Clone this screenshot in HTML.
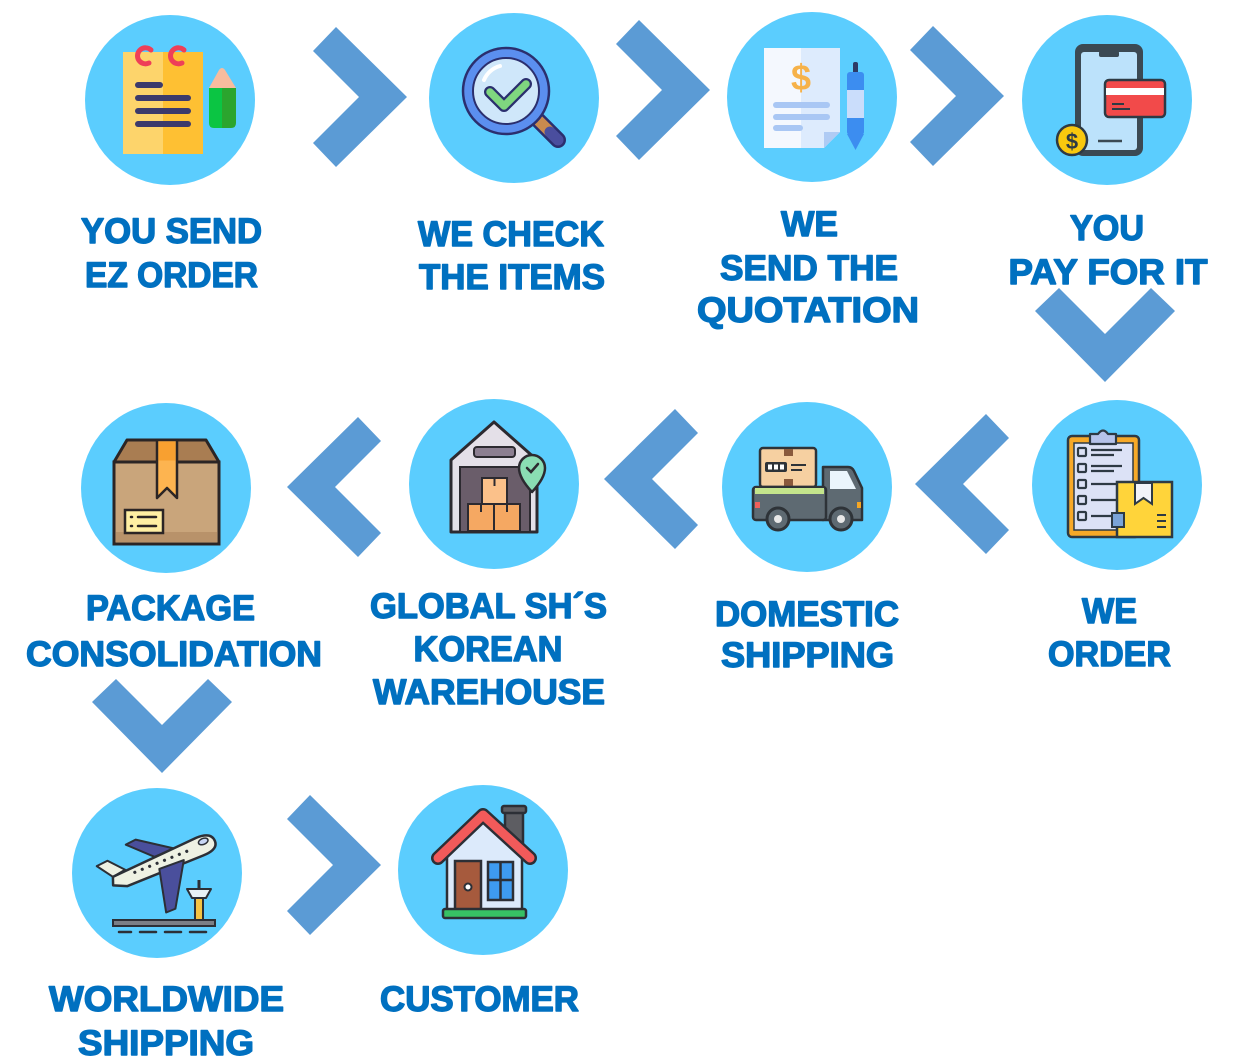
<!DOCTYPE html>
<html><head><meta charset="utf-8"><style>
html,body{margin:0;padding:0;background:#fff;}
svg{display:block;}
.t{font-family:"Liberation Sans",Arial,sans-serif;font-weight:700;font-size:35px;fill:#0070C0;stroke:#0070C0;stroke-width:1.4px;stroke-linejoin:round;text-anchor:middle;}
.c{fill:#5BCDFE;}
.ch{fill:#5B9BD5;}
</style></head><body>
<svg width="1233" height="1064" viewBox="0 0 1233 1064" xmlns="http://www.w3.org/2000/svg">
<defs>
<polygon id="chev" points="0,0 -71,-70 -94,-46 -48,0 -94,46 -71,70"/>
</defs>

<!-- circles -->
<circle class="c" cx="170" cy="100" r="85"/>
<circle class="c" cx="514" cy="98" r="85"/>
<circle class="c" cx="812" cy="97" r="85"/>
<circle class="c" cx="1107" cy="100" r="85"/>
<circle class="c" cx="1117" cy="485" r="85"/>
<circle class="c" cx="807" cy="487" r="85"/>
<circle class="c" cx="494" cy="484" r="85"/>
<circle class="c" cx="166" cy="488" r="85"/>
<circle class="c" cx="157" cy="873" r="85"/>
<circle class="c" cx="483" cy="870" r="85"/>

<!-- chevrons -->
<use href="#chev" class="ch" transform="translate(407,97)"/>
<use href="#chev" class="ch" transform="translate(710,90)"/>
<use href="#chev" class="ch" transform="translate(1004,96)"/>
<use href="#chev" class="ch" transform="translate(1105,382) rotate(90)"/>
<use href="#chev" class="ch" transform="translate(915,484) rotate(180)"/>
<use href="#chev" class="ch" transform="translate(604,479) rotate(180)"/>
<use href="#chev" class="ch" transform="translate(287,487) rotate(180)"/>
<use href="#chev" class="ch" transform="translate(162,773) rotate(90)"/>
<use href="#chev" class="ch" transform="translate(381,865)"/>

<!-- Icon 1: notepad -->
<rect x="123" y="52" width="40" height="102" fill="#FDD46B"/>
<rect x="163" y="52" width="40" height="102" fill="#FEC033"/>
<path d="M151,50 A8,8 0 1 0 149,63" fill="none" stroke="#EE3F58" stroke-width="5" stroke-linecap="round"/>
<path d="M184,50 A8,8 0 1 0 182,63" fill="none" stroke="#EE3F58" stroke-width="5" stroke-linecap="round"/>
<g stroke="#3C3A6B" stroke-width="6" stroke-linecap="round">
<line x1="138" y1="85" x2="160" y2="85"/>
<line x1="138" y1="98" x2="188" y2="98"/>
<line x1="138" y1="111" x2="188" y2="111"/>
<line x1="138" y1="124" x2="188" y2="124"/>
</g>
<path d="M209,88 L219,70 Q222,66 225,70 L236,88 Z" fill="#F8BC9E"/>
<path d="M209,88 H222 V128 H214 Q209,128 209,123 Z" fill="#0BC543"/>
<path d="M222,88 H236 V123 Q236,128 231,128 H222 Z" fill="#2BA52E"/>

<!-- Icon 2: magnifier -->
<line x1="537" y1="119" x2="558" y2="140" stroke="#2B2F6E" stroke-width="16" stroke-linecap="round"/>
<line x1="537" y1="119" x2="550" y2="132" stroke="#C98A4E" stroke-width="11" stroke-linecap="butt"/>
<line x1="550" y1="132" x2="558" y2="140" stroke="#4A4E9E" stroke-width="11" stroke-linecap="round"/>
<circle cx="506" cy="91" r="43" fill="#5B8FEF" stroke="#2B2F6E" stroke-width="2.5"/>
<circle cx="506" cy="91" r="33" fill="#CFE7FA" stroke="#2B2F6E" stroke-width="2"/>
<path d="M484,80 A24,24 0 0 1 500,66" fill="none" stroke="#fff" stroke-width="4" stroke-linecap="round"/>
<polyline points="490,92 504,106 526,84" fill="none" stroke="#2B2F6E" stroke-width="12" stroke-linejoin="round" stroke-linecap="round"/>
<polyline points="490,92 504,106 526,84" fill="none" stroke="#7FD67F" stroke-width="7.5" stroke-linejoin="round" stroke-linecap="round"/>

<!-- Icon 3: quotation -->
<path d="M764,48 H801 V148 H764 Z" fill="#F4F8FE"/>
<path d="M801,48 H840 V132 L824,148 H801 Z" fill="#DDEBFD"/>
<path d="M824,148 V132 H840 Z" fill="#AFCBF4"/>
<text x="801" y="90" font-family="Liberation Sans,Arial,sans-serif" font-weight="700" font-size="36" fill="#F6B24A" text-anchor="middle">$</text>
<g stroke="#A9C7F4" stroke-width="6" stroke-linecap="round">
<line x1="776" y1="105" x2="827" y2="105"/>
<line x1="776" y1="117" x2="827" y2="117"/>
<line x1="776" y1="128" x2="800" y2="128"/>
</g>
<rect x="853" y="62" width="5" height="12" rx="2" fill="#2D3A66"/>
<rect x="847" y="72" width="17" height="63" rx="3" fill="#3C8DF0"/>
<rect x="847" y="90" width="17" height="28" fill="#CADDFB"/>
<polygon points="847,134 864,134 855.5,150" fill="#3C8DF0"/>

<!-- Icon 4: phone -->
<rect x="1075" y="44" width="68" height="112" rx="8" fill="#3B4953"/>
<rect x="1081" y="52" width="56" height="98" rx="3" fill="#BCE2FB"/>
<rect x="1099" y="51" width="20" height="6" rx="2" fill="#3B4953"/>
<line x1="1098" y1="141" x2="1122" y2="141" stroke="#3B4953" stroke-width="2.5"/>
<rect x="1105" y="80" width="60" height="37" rx="4" fill="#F24A4A" stroke="#2E3A44" stroke-width="2.5"/>
<rect x="1106" y="88" width="58" height="7" fill="#fff"/>
<line x1="1112" y1="104" x2="1124" y2="104" stroke="#2E3A44" stroke-width="2"/>
<line x1="1112" y1="109" x2="1130" y2="109" stroke="#2E3A44" stroke-width="2"/>
<circle cx="1072" cy="140" r="15" fill="#F9C80E" stroke="#2E3A44" stroke-width="2.5"/>
<text x="1072" y="149" font-family="Liberation Sans,Arial,sans-serif" font-weight="700" font-size="22" fill="#2E3A44" text-anchor="middle">$</text>

<!-- Icon 5: clipboard + box -->
<rect x="1068" y="436" width="71" height="101" rx="4" fill="#F7A928" stroke="#2E3A44" stroke-width="2.5"/>
<rect x="1074" y="443" width="59" height="87" fill="#DCE2F6" stroke="#2E3A44" stroke-width="1.5"/>
<path d="M1090,444 V434 H1098 Q1103,427 1108,434 H1116 V444 Z" fill="#B6C3EA" stroke="#2E3A44" stroke-width="2.2" stroke-linejoin="round"/>
<g fill="none" stroke="#2E3A44" stroke-width="2.2">
<rect x="1078" y="448" width="8" height="8" rx="1"/>
<rect x="1078" y="464" width="8" height="8" rx="1"/>
<rect x="1078" y="480" width="8" height="8" rx="1"/>
<rect x="1078" y="496" width="8" height="8" rx="1"/>
<rect x="1078" y="512" width="8" height="8" rx="1"/>
<line x1="1091" y1="450" x2="1122" y2="450"/>
<line x1="1091" y1="455" x2="1114" y2="455"/>
<line x1="1091" y1="466" x2="1122" y2="466"/>
<line x1="1091" y1="471" x2="1114" y2="471"/>
<line x1="1091" y1="484" x2="1117" y2="484"/>
<line x1="1091" y1="500" x2="1117" y2="500"/>
<line x1="1091" y1="516" x2="1117" y2="516"/>
</g>
<rect x="1117" y="482" width="55" height="55" fill="#FFD43A" stroke="#2E3A44" stroke-width="2.5"/>
<path d="M1135,483 H1152 V504 L1143.5,498 L1135,504 Z" fill="#F2F3F8" stroke="#2E3A44" stroke-width="2"/>
<rect x="1112" y="513" width="12" height="14" fill="#7BA4D8" stroke="#2E3A44" stroke-width="2"/>
<g stroke="#2E3A44" stroke-width="2"><line x1="1157" y1="515" x2="1166" y2="515"/><line x1="1157" y1="521" x2="1166" y2="521"/><line x1="1157" y1="527" x2="1166" y2="527"/></g>

<!-- Icon 6: truck -->
<rect x="760" y="448" width="56" height="39" rx="3" fill="#F6D0A1" stroke="#2E3338" stroke-width="2.5"/>
<rect x="784" y="449" width="9" height="7" fill="#8A5A3C"/>
<rect x="784" y="479" width="9" height="7" fill="#8A5A3C"/>
<rect x="765" y="462" width="22" height="10" rx="2" fill="#2E3338"/>
<rect x="768" y="464.5" width="4" height="5" fill="#fff"/><rect x="774" y="464.5" width="4" height="5" fill="#fff"/><rect x="780" y="464.5" width="4" height="5" fill="#fff"/>
<line x1="791" y1="465" x2="806" y2="465" stroke="#2E3338" stroke-width="2"/>
<line x1="791" y1="470" x2="802" y2="470" stroke="#2E3338" stroke-width="2"/>
<path d="M823,467 H848 Q852,467 854,471 L862,488 V520 H823 Z" fill="#5E6A72" stroke="#2E3338" stroke-width="2.5" stroke-linejoin="round"/>
<polygon points="830,471 847,471 856,489 830,489" fill="#EAF5FC"/>
<rect x="753" y="487" width="73" height="33" rx="3" fill="#5E6A72" stroke="#2E3338" stroke-width="2.5"/>
<rect x="755" y="488" width="69" height="6" fill="#C4E58C"/>
<rect x="755" y="502" width="5" height="6" fill="#F0605A"/>
<rect x="857" y="502" width="4" height="6" fill="#F6A623"/>
<circle cx="778" cy="519" r="11" fill="#5E6A72" stroke="#2E3338" stroke-width="3"/>
<circle cx="778" cy="519" r="4" fill="#E8E8E8"/>
<circle cx="841" cy="519" r="11" fill="#5E6A72" stroke="#2E3338" stroke-width="3"/>
<circle cx="841" cy="519" r="4" fill="#E8E8E8"/>

<!-- Icon 7: warehouse -->
<polygon points="451,460 494,422 537,460 537,532 451,532" fill="#E4E0E8" stroke="#2C2A30" stroke-width="3" stroke-linejoin="round"/>
<rect x="474" y="447" width="41" height="10" rx="3" fill="#8C7F91" stroke="#2C2A30" stroke-width="2"/>
<rect x="460" y="467" width="70" height="65" fill="#6A5D6A" stroke="#2C2A30" stroke-width="2"/>
<rect x="482" y="478" width="25" height="26" fill="#FBC18A" stroke="#2C2A30" stroke-width="2"/>
<rect x="468" y="504" width="26" height="27" fill="#F5A862" stroke="#2C2A30" stroke-width="2"/>
<rect x="494" y="504" width="26" height="27" fill="#F5A862" stroke="#2C2A30" stroke-width="2"/>
<g stroke="#2C2A30" stroke-width="2"><line x1="494.5" y1="478" x2="494.5" y2="486"/><line x1="481" y1="504" x2="481" y2="512"/><line x1="507" y1="504" x2="507" y2="512"/></g>
<path d="M532,492 Q519,478 519,468 A13,13 0 0 1 545,468 Q545,478 532,492 Z" fill="#8ADDB3" stroke="#2C2A30" stroke-width="2.5" stroke-linejoin="round"/>
<polyline points="527,468 531,472 538,464" fill="none" stroke="#2C2A30" stroke-width="2.5" stroke-linecap="round"/>

<!-- Icon 8: package -->
<polygon points="114,462 127,440 206,440 219,462" fill="#A97D52" stroke="#2B2525" stroke-width="3" stroke-linejoin="round"/>
<rect x="114" y="462" width="105" height="82" fill="#C9A57B" stroke="#2B2525" stroke-width="3"/>
<rect x="116" y="532" width="101" height="10" fill="#B8926A"/>
<polygon points="157,440 177,440 177,498 167,488 157,498" fill="#FDB450" stroke="#2B2525" stroke-width="2.5" stroke-linejoin="round"/>
<rect x="158.5" y="441.5" width="17" height="19" fill="#F8A030"/>
<rect x="125" y="510" width="38" height="23" fill="#FFEFA3" stroke="#2B2525" stroke-width="2.5"/>
<g stroke="#2B2525" stroke-width="2.5" stroke-linecap="round">
<line x1="131" y1="517" x2="132" y2="517"/><line x1="131" y1="526" x2="132" y2="526"/>
<line x1="138" y1="517" x2="156" y2="517"/><line x1="138" y1="526" x2="156" y2="526"/>
</g>

<!-- Icon 9: plane -->
<rect x="113" y="920" width="102" height="6" fill="#7B7F86" stroke="#2C2F36" stroke-width="2"/>
<g stroke="#2C2F36" stroke-width="2.5" stroke-linecap="round">
<line x1="119" y1="932" x2="131" y2="932"/><line x1="140" y1="932" x2="156" y2="932"/><line x1="165" y1="932" x2="181" y2="932"/><line x1="190" y1="932" x2="206" y2="932"/>
</g>
<line x1="199" y1="880" x2="199" y2="920" stroke="#2C2F36" stroke-width="3"/>
<rect x="195" y="897" width="8" height="23" fill="#F5C343" stroke="#2C2F36" stroke-width="2"/>
<polygon points="187,889 211,889 206,898 192,898" fill="#E8F1F5" stroke="#2C2F36" stroke-width="2" stroke-linejoin="round"/>
<g transform="translate(163,862) rotate(-22)">
<polygon points="-6,-8 -28,-30 -17,-31 16,-8" fill="#4A4F9C" stroke="#2C2F36" stroke-width="2" stroke-linejoin="round"/>
<polygon points="-52,-5 -63,-21 -51,-22 -38,-7" fill="#EEF1E3" stroke="#2C2F36" stroke-width="2" stroke-linejoin="round"/>
<path d="M-55,3 L-52,-5 L40,-10 Q56,-10 56,0 Q56,9 40,9 L-42,9 Z" fill="#EEF1E3" stroke="#2C2F36" stroke-width="2.5" stroke-linejoin="round"/>
<ellipse cx="45" cy="-4" rx="5" ry="3" fill="#C8D6F3" stroke="#2C2F36" stroke-width="1.5"/>
<g fill="#2C2F36"><circle cx="-30" cy="-1" r="1.6"/><circle cx="-22" cy="-1" r="1.6"/><circle cx="-14" cy="-1" r="1.6"/><circle cx="-6" cy="-1" r="1.6"/><circle cx="2" cy="-1" r="1.6"/><circle cx="10" cy="-1" r="1.6"/><circle cx="18" cy="-1" r="1.6"/><circle cx="26" cy="-1" r="1.6"/></g>
<polygon points="-6,5 -16,48 -6,48 20,6" fill="#4A4F9C" stroke="#2C2F36" stroke-width="2" stroke-linejoin="round"/>
</g>

<!-- Icon 10: house -->
<rect x="505" y="810" width="18" height="35" fill="#5D5D62" stroke="#2C2F36" stroke-width="2.5"/>
<rect x="502" y="806" width="24" height="7" rx="2" fill="#5D5D62" stroke="#2C2F36" stroke-width="2.5"/>
<polygon points="447,852 483,818 522,852 522,912 447,912" fill="#DCEAFB" stroke="#2C2F36" stroke-width="2.5" stroke-linejoin="round"/>
<polyline points="438,858 483,815 530,858" fill="none" stroke="#2C2F36" stroke-width="14" stroke-linejoin="round" stroke-linecap="round"/>
<polyline points="438,858 483,815 530,858" fill="none" stroke="#F25A5A" stroke-width="9" stroke-linejoin="round" stroke-linecap="round"/>
<rect x="455" y="861" width="26" height="50" fill="#A65A3D" stroke="#2C2F36" stroke-width="2.5"/>
<circle cx="468" cy="887" r="3.5" fill="#fff" stroke="#2C2F36" stroke-width="2"/>
<rect x="488" y="862" width="25" height="38" fill="#3E9BF1" stroke="#2C2F36" stroke-width="2.5"/>
<line x1="500.5" y1="862" x2="500.5" y2="900" stroke="#2C2F36" stroke-width="2.5"/>
<line x1="488" y1="880" x2="513" y2="880" stroke="#2C2F36" stroke-width="2.5"/>
<rect x="443" y="909" width="83" height="9" rx="2" fill="#37C064" stroke="#2C2F36" stroke-width="2.5"/>

<!-- Labels -->
<text class="t" x="171.5" y="243" textLength="181" lengthAdjust="spacingAndGlyphs">YOU SEND</text>
<text class="t" x="171.5" y="287" textLength="173" lengthAdjust="spacingAndGlyphs">EZ ORDER</text>
<text class="t" x="511" y="246" textLength="186" lengthAdjust="spacingAndGlyphs">WE CHECK</text>
<text class="t" x="512" y="289" textLength="186" lengthAdjust="spacingAndGlyphs">THE ITEMS</text>
<text class="t" x="809.5" y="236" textLength="57" lengthAdjust="spacingAndGlyphs">WE</text>
<text class="t" x="809" y="280" textLength="178" lengthAdjust="spacingAndGlyphs">SEND THE</text>
<text class="t" x="808" y="322" textLength="222" lengthAdjust="spacingAndGlyphs">QUOTATION</text>
<text class="t" x="1107" y="240" textLength="74" lengthAdjust="spacingAndGlyphs">YOU</text>
<text class="t" x="1108" y="284" textLength="199" lengthAdjust="spacingAndGlyphs">PAY FOR IT</text>
<text class="t" x="1109.5" y="623" textLength="55" lengthAdjust="spacingAndGlyphs">WE</text>
<text class="t" x="1109.5" y="666" textLength="123" lengthAdjust="spacingAndGlyphs">ORDER</text>
<text class="t" x="807" y="626" textLength="184" lengthAdjust="spacingAndGlyphs">DOMESTIC</text>
<text class="t" x="807.5" y="667" textLength="173" lengthAdjust="spacingAndGlyphs">SHIPPING</text>
<text class="t" x="488.5" y="618" textLength="237" lengthAdjust="spacingAndGlyphs">GLOBAL SH´S</text>
<text class="t" x="488" y="661" textLength="149" lengthAdjust="spacingAndGlyphs">KOREAN</text>
<text class="t" x="489" y="704" textLength="232" lengthAdjust="spacingAndGlyphs">WAREHOUSE</text>
<text class="t" x="170.5" y="620" textLength="169" lengthAdjust="spacingAndGlyphs">PACKAGE</text>
<text class="t" x="174" y="666" textLength="296" lengthAdjust="spacingAndGlyphs">CONSOLIDATION</text>
<text class="t" x="166.5" y="1011" textLength="235" lengthAdjust="spacingAndGlyphs">WORLDWIDE</text>
<text class="t" x="166" y="1055" textLength="176" lengthAdjust="spacingAndGlyphs">SHIPPING</text>
<text class="t" x="479.5" y="1011" textLength="199" lengthAdjust="spacingAndGlyphs">CUSTOMER</text>
</svg>
</body></html>
